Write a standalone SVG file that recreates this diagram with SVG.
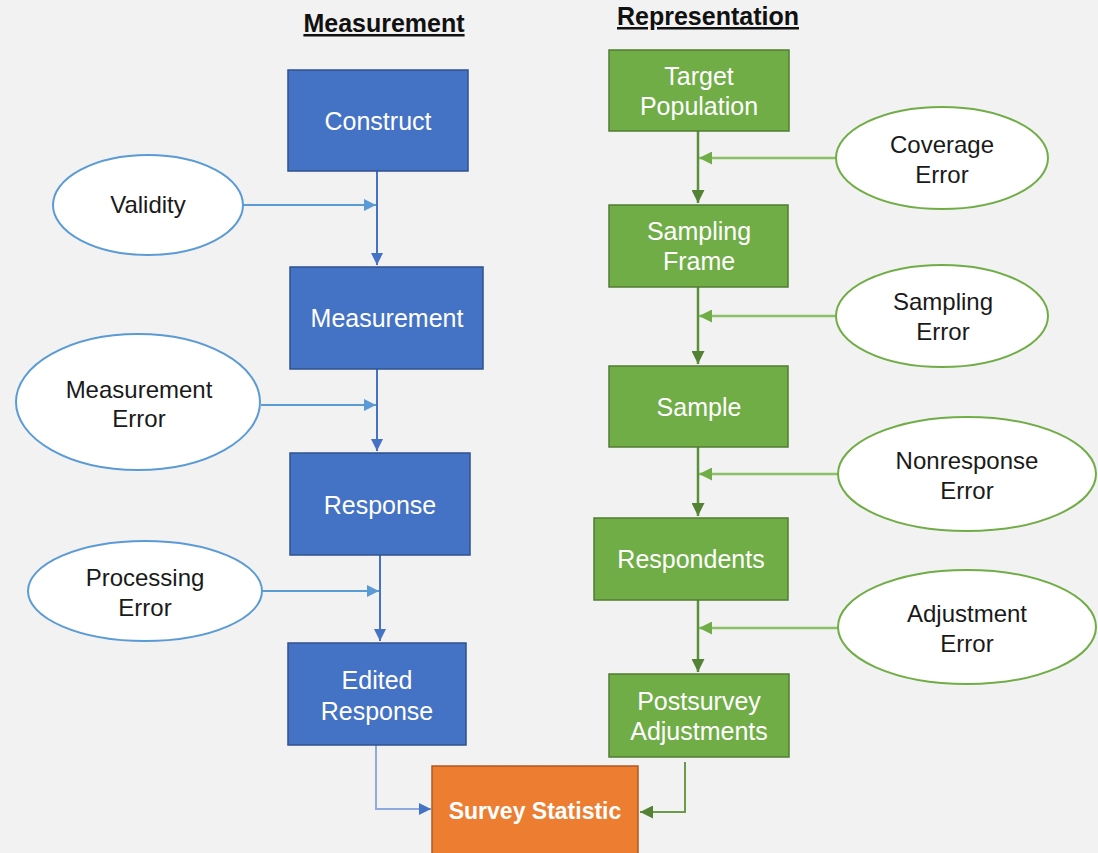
<svg xmlns="http://www.w3.org/2000/svg" width="1098" height="853" viewBox="0 0 1098 853">
<defs>
<style>
.bg{fill:#f2f2f2}
.bbox{fill:#4472c4;stroke:#2f528f;stroke-width:1.5}
.gbox{fill:#70ad47;stroke:#507e32;stroke-width:1.5}
.obox{fill:#ed7d31;stroke:#ae5a21;stroke-width:1.5}
.bell{fill:#ffffff;stroke:#5b9bd5;stroke-width:2}
.gell{fill:#ffffff;stroke:#70ad47;stroke-width:2}
.wt{font-family:"Liberation Sans",Arial,sans-serif;font-size:25px;fill:#ffffff;text-anchor:middle}
.bt{font-family:"Liberation Sans",Arial,sans-serif;font-size:24px;fill:#1a1a1a;text-anchor:middle}
.hd{font-family:"Liberation Sans",Arial,sans-serif;font-size:25px;font-weight:bold;fill:#111111;text-anchor:middle;text-decoration:underline}
.bv{stroke:#4472c4;stroke-width:2;fill:none}
.bh{stroke:#5b9bd5;stroke-width:2;fill:none}
.bl{stroke:#8faadc;stroke-width:2;fill:none}
.gv{stroke:#5b8f3a;stroke-width:2.5;fill:none}
.gh{stroke:#8cc168;stroke-width:2.5;fill:none}
.gl{stroke:#6a9b4b;stroke-width:2;fill:none}
</style>
<marker id="ab" viewBox="0 0 10 10" refX="10" refY="5" markerWidth="12" markerHeight="12" markerUnits="userSpaceOnUse" orient="auto"><path d="M0,0L10,5L0,10z" fill="#4472c4"/></marker>
<marker id="ah" viewBox="0 0 10 10" refX="10" refY="5" markerWidth="12" markerHeight="12" markerUnits="userSpaceOnUse" orient="auto"><path d="M0,0L10,5L0,10z" fill="#5b9bd5"/></marker>
<marker id="ag" viewBox="0 0 10 10" refX="10" refY="5" markerWidth="13" markerHeight="13" markerUnits="userSpaceOnUse" orient="auto"><path d="M0,0L10,5L0,10z" fill="#548235"/></marker>
<marker id="agh" viewBox="0 0 10 10" refX="10" refY="5" markerWidth="13" markerHeight="13" markerUnits="userSpaceOnUse" orient="auto"><path d="M0,0L10,5L0,10z" fill="#70ad47"/></marker>
</defs>
<rect class="bg" x="0" y="0" width="1098" height="853"/>

<g id="headers">
<text class="hd" x="384" y="32">Measurement</text>
<text class="hd" x="708" y="25">Representation</text>
</g>

<g id="connectors">
<line class="bv" x1="377" y1="171" x2="377" y2="265" marker-end="url(#ab)"/>
<line class="bh" x1="243" y1="205" x2="376" y2="205" marker-end="url(#ah)"/>
<line class="bv" x1="377" y1="369" x2="377" y2="451" marker-end="url(#ab)"/>
<line class="bh" x1="261" y1="405" x2="376" y2="405" marker-end="url(#ah)"/>
<line class="bv" x1="380" y1="555" x2="380" y2="641" marker-end="url(#ab)"/>
<line class="bh" x1="262" y1="591" x2="379" y2="591" marker-end="url(#ah)"/>
<polyline class="bl" points="376,745 376,809 431,809" marker-end="url(#ab)"/>

<line class="gv" x1="698" y1="131" x2="698" y2="203" marker-end="url(#ag)"/>
<line class="gh" x1="836" y1="158" x2="699" y2="158" marker-end="url(#agh)"/>
<line class="gv" x1="698" y1="287" x2="698" y2="364" marker-end="url(#ag)"/>
<line class="gh" x1="836" y1="316" x2="699" y2="316" marker-end="url(#agh)"/>
<line class="gv" x1="698" y1="447" x2="698" y2="516" marker-end="url(#ag)"/>
<line class="gh" x1="838" y1="474" x2="699" y2="474" marker-end="url(#agh)"/>
<line class="gv" x1="698" y1="600" x2="698" y2="672" marker-end="url(#ag)"/>
<line class="gh" x1="838" y1="628" x2="699" y2="628" marker-end="url(#agh)"/>
<polyline class="gl" points="685,762 685,812 640,812" marker-end="url(#ag)"/>
</g>

<g id="construct"><rect class="bbox" x="288" y="70" width="180" height="101"/><text class="wt" x="378" y="130">Construct</text></g>
<g id="measurement"><rect class="bbox" x="290" y="267" width="193" height="102"/><text class="wt" x="387" y="327">Measurement</text></g>
<g id="response"><rect class="bbox" x="290" y="453" width="180" height="102"/><text class="wt" x="380" y="514">Response</text></g>
<g id="edited-response"><rect class="bbox" x="288" y="643" width="178" height="102"/><text class="wt" x="377" y="689">Edited</text><text class="wt" x="377" y="720">Response</text></g>

<g id="validity"><ellipse class="bell" cx="148" cy="205" rx="95" ry="50"/><text class="bt" x="148" y="213">Validity</text></g>
<g id="measurement-error"><ellipse class="bell" cx="138" cy="402" rx="122" ry="68"/><text class="bt" x="139" y="398">Measurement</text><text class="bt" x="139" y="427">Error</text></g>
<g id="processing-error"><ellipse class="bell" cx="145" cy="591" rx="117" ry="50"/><text class="bt" x="145" y="586">Processing</text><text class="bt" x="145" y="616">Error</text></g>

<g id="target-population"><rect class="gbox" x="609" y="50" width="180" height="81"/><text class="wt" x="699" y="85">Target</text><text class="wt" x="699" y="115">Population</text></g>
<g id="sampling-frame"><rect class="gbox" x="609" y="205" width="179" height="82"/><text class="wt" x="699" y="240">Sampling</text><text class="wt" x="699" y="270">Frame</text></g>
<g id="sample"><rect class="gbox" x="609" y="366" width="179" height="81"/><text class="wt" x="699" y="416">Sample</text></g>
<g id="respondents"><rect class="gbox" x="594" y="518" width="194" height="82"/><text class="wt" x="691" y="568">Respondents</text></g>
<g id="postsurvey-adjustments"><rect class="gbox" x="609" y="674" width="180" height="83"/><text class="wt" x="699" y="710">Postsurvey</text><text class="wt" x="699" y="740">Adjustments</text></g>

<g id="coverage-error"><ellipse class="gell" cx="942" cy="158" rx="106" ry="51"/><text class="bt" x="942" y="153">Coverage</text><text class="bt" x="942" y="183">Error</text></g>
<g id="sampling-error"><ellipse class="gell" cx="942" cy="316" rx="106" ry="51"/><text class="bt" x="943" y="310">Sampling</text><text class="bt" x="943" y="340">Error</text></g>
<g id="nonresponse-error"><ellipse class="gell" cx="967" cy="474" rx="129" ry="57"/><text class="bt" x="967" y="469">Nonresponse</text><text class="bt" x="967" y="499">Error</text></g>
<g id="adjustment-error"><ellipse class="gell" cx="967" cy="627" rx="129" ry="57"/><text class="bt" x="967" y="622">Adjustment</text><text class="bt" x="967" y="652">Error</text></g>

<g id="survey-statistic"><rect class="obox" x="432" y="766" width="206" height="95"/><text class="wt" x="535" y="819" style="font-weight:bold;font-size:23px">Survey Statistic</text></g>
</svg>
